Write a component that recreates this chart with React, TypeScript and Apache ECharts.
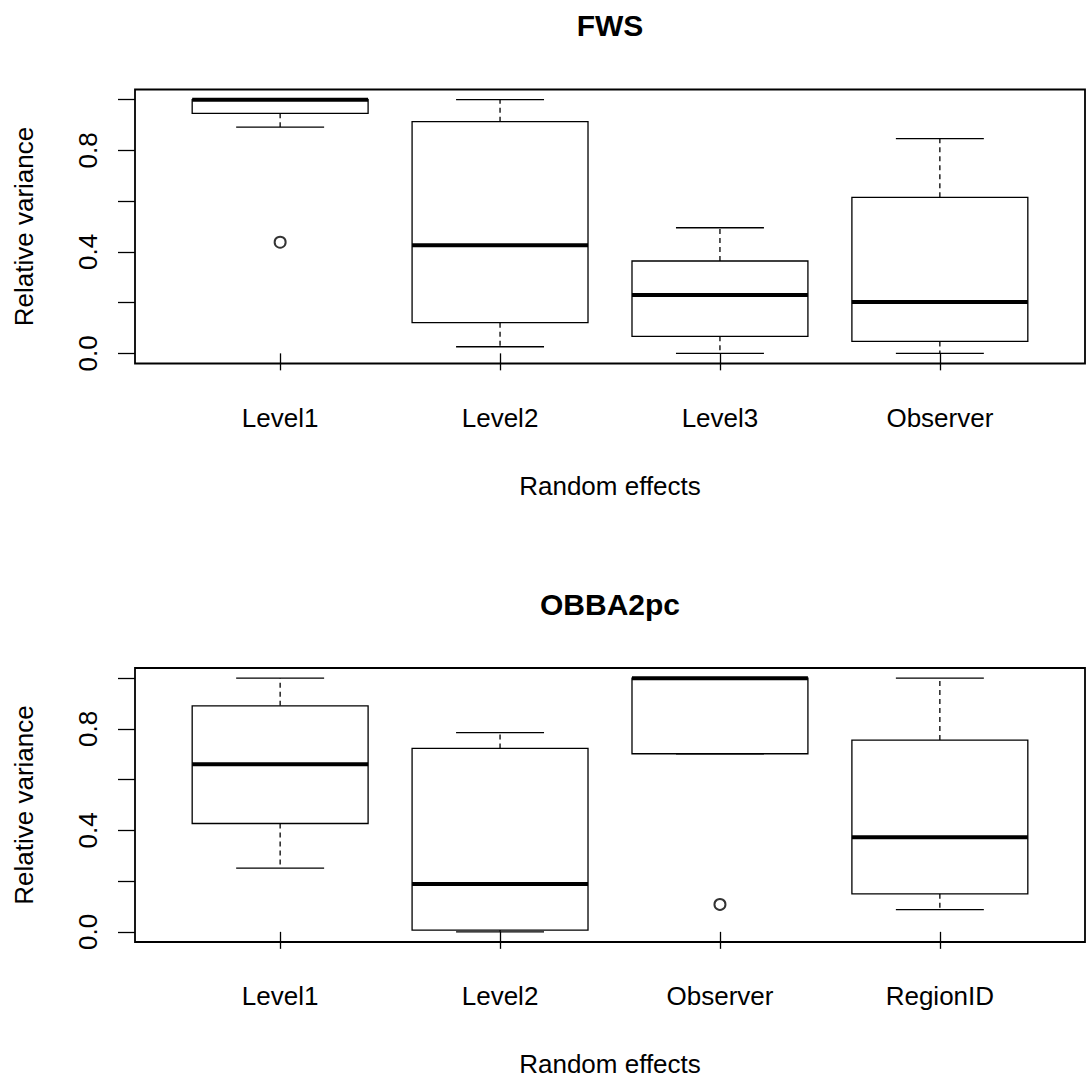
import React, { useEffect, useRef } from "react";
import * as echarts from "echarts";

const fwsTitle = "FWS";
const fwsCategories = ["Level1", "Level2", "Level3", "Observer"];
const fwsMin = [0.892, 0.026, 0.0, 0.0];
const fwsQ1 = [0.946, 0.121, 0.067, 0.047];
const fwsMedian = [1.0, 0.426, 0.23, 0.202];
const fwsQ3 = [1.0, 0.913, 0.364, 0.615];
const fwsMax = [1.0, 1.0, 0.495, 0.846];
const fwsOutliers = [[1, 0.438]];

const obbaTitle = "OBBA2pc";
const obbaCategories = ["Level1", "Level2", "Observer", "RegionID"];
const obbaMin = [0.251, 0.0, 0.702, 0.088];
const obbaQ1 = [0.427, 0.007, 0.702, 0.15];
const obbaMedian = [0.661, 0.189, 1.0, 0.373];
const obbaQ3 = [0.891, 0.723, 1.0, 0.756];
const obbaMax = [1.0, 0.785, 1.0, 1.0];
const obbaOutliers = [[3, 0.108]];

const yTicks = [0, 0.2, 0.4, 0.6, 0.8, 1.0];
const yLabels = [0, 0.4, 0.8];
const xTicks = [1, 2, 3, 4];
const xName = "Random effects";
const yName = "Relative variance";

const FONT = "'Liberation Sans', Arial, Helvetica, sans-serif";
const FS = 26;
const LW = 1.3;

function renderBox(params: any, api: any) {
  const x = api.value(0);
  const vMin = api.value(1);
  const vQ1 = api.value(2);
  const vMed = api.value(3);
  const vQ3 = api.value(4);
  const vMax = api.value(5);
  const c = (xx: number, yy: number) => api.coord([xx, yy]);
  const cx = c(x, 0)[0];
  const bl = c(x - 0.4, 0)[0];
  const br = c(x + 0.4, 0)[0];
  const wl = c(x - 0.2, 0)[0];
  const wr = c(x + 0.2, 0)[0];
  const yMin = c(x, vMin)[1];
  const yQ1 = c(x, vQ1)[1];
  const yMed = c(x, vMed)[1];
  const yQ3 = c(x, vQ3)[1];
  const yMax = c(x, vMax)[1];
  const solid = { stroke: "#000", lineWidth: LW };
  const dashed = { stroke: "#000", lineWidth: LW, lineDash: [5, 4] };
  return {
    type: "group",
    children: [
      { type: "line", shape: { x1: cx, y1: yQ3, x2: cx, y2: yMax }, style: dashed },
      { type: "line", shape: { x1: cx, y1: yQ1, x2: cx, y2: yMin }, style: dashed },
      { type: "line", shape: { x1: wl, y1: yMax, x2: wr, y2: yMax }, style: solid },
      { type: "line", shape: { x1: wl, y1: yMin, x2: wr, y2: yMin }, style: solid },
      {
        type: "rect",
        shape: { x: bl, y: yQ3, width: br - bl, height: yQ1 - yQ3 },
        style: { fill: "#fff", stroke: "#000", lineWidth: LW },
      },
      {
        type: "line",
        shape: { x1: bl, y1: yMed, x2: br, y2: yMed },
        style: { stroke: "#000", lineWidth: 4 },
      },
    ],
  };
}

function buildData(mins: number[], q1: number[], med: number[], q3: number[], maxs: number[]) {
  return mins.map((m, i) => [i + 1, m, q1[i], med[i], q3[i], maxs[i]]);
}

function xAxisFor(cats: string[], gridIndex: number) {
  return {
    type: "value",
    gridIndex,
    min: 0.34,
    max: 4.66,
    splitLine: { show: false },
    axisLine: { show: false },
    axisTick: {
      show: true,
      customValues: xTicks,
      length: 17,
      lineStyle: { color: "#000", width: LW },
    },
    axisLabel: {
      show: true,
      customValues: xTicks,
      formatter: (v: number) => cats[Math.round(v) - 1] ?? "",
      color: "#000",
      fontSize: FS,
      fontFamily: FONT,
      margin: 41,
    },
    name: xName,
    nameLocation: "middle",
    nameGap: 109,
    nameTextStyle: { color: "#000", fontSize: FS, fontFamily: FONT },
  };
}

function yAxisFor(gridIndex: number) {
  return {
    type: "value",
    gridIndex,
    min: -0.04,
    max: 1.04,
    splitLine: { show: false },
    axisLine: { show: false },
    axisTick: {
      show: true,
      customValues: yTicks,
      length: 17,
      lineStyle: { color: "#000", width: LW },
    },
    axisLabel: {
      show: true,
      customValues: yLabels,
      rotate: 90,
      formatter: (v: number) => v.toFixed(1),
      color: "#000",
      fontSize: FS,
      fontFamily: FONT,
      margin: 34,
    },
    name: yName,
    nameLocation: "middle",
    nameGap: 98,
    nameTextStyle: { color: "#000", fontSize: FS, fontFamily: FONT },
  };
}

export default function App() {
  const ref = useRef<HTMLDivElement>(null);
  useEffect(() => {
    if (!ref.current) return;
    const chart = echarts.init(ref.current, null, { renderer: "svg" });
    const titleStyle = {
      fontSize: 30,
      fontWeight: "bold",
      fontFamily: FONT,
      fill: "#000",
      textAlign: "center",
      textVerticalAlign: "middle",
    };
    const option: any = {
      animation: false,
      backgroundColor: "#fff",
      graphic: [
        { type: "text", x: 610, y: 25, style: { ...titleStyle, text: fwsTitle } },
        { type: "text", x: 610, y: 604, style: { ...titleStyle, text: obbaTitle } },
      ],
      grid: [
        {
          left: 135,
          top: 89.5,
          width: 950,
          height: 274,
          show: true,
          borderColor: "#000",
          borderWidth: 1.8,
          backgroundColor: "transparent",
        },
        {
          left: 135,
          top: 668,
          width: 950,
          height: 274,
          show: true,
          borderColor: "#000",
          borderWidth: 1.8,
          backgroundColor: "transparent",
        },
      ],
      xAxis: [xAxisFor(fwsCategories, 0), xAxisFor(obbaCategories, 1)],
      yAxis: [yAxisFor(0), yAxisFor(1)],
      series: [
        {
          type: "custom",
          xAxisIndex: 0,
          yAxisIndex: 0,
          renderItem: renderBox,
          encode: { x: 0, y: [1, 2, 3, 4, 5] },
          data: buildData(fwsMin, fwsQ1, fwsMedian, fwsQ3, fwsMax),
          silent: true,
        },
        {
          type: "scatter",
          xAxisIndex: 0,
          yAxisIndex: 0,
          symbol: "emptyCircle",
          symbolSize: 11,
          itemStyle: { color: "#000", borderColor: "#000", borderWidth: 1.5 },
          data: fwsOutliers,
          silent: true,
        },
        {
          type: "custom",
          xAxisIndex: 1,
          yAxisIndex: 1,
          renderItem: renderBox,
          encode: { x: 0, y: [1, 2, 3, 4, 5] },
          data: buildData(obbaMin, obbaQ1, obbaMedian, obbaQ3, obbaMax),
          silent: true,
        },
        {
          type: "scatter",
          xAxisIndex: 1,
          yAxisIndex: 1,
          symbol: "emptyCircle",
          symbolSize: 11,
          itemStyle: { color: "#000", borderColor: "#000", borderWidth: 1.5 },
          data: obbaOutliers,
          silent: true,
        },
      ],
    };
    chart.setOption(option);
    return () => chart.dispose();
  }, []);
  return (
    <div
      ref={ref}
      style={{ position: "absolute", left: 0, top: 0, width: 1090, height: 1084, background: "#fff" }}
    />
  );
}
